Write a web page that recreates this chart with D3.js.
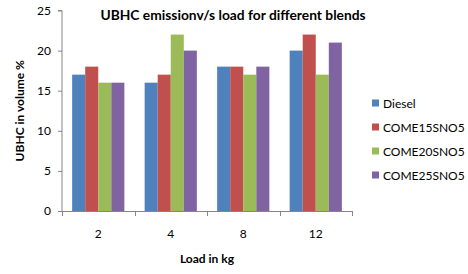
<!DOCTYPE html>
<html>
<head>
<meta charset="utf-8">
<script src="https://cdn.jsdelivr.net/npm/d3@7"></script>
<style>
  body { margin: 0; background: #fff; }
  text { font-family: Lato, "Open Sans", sans-serif; fill: #000; }
</style>
</head>
<body>
<svg id="chart" width="468" height="274"></svg>
<script>
let loads = ['2', '4', '8', '12'];
let blends = ['Diesel', 'COME15SNO5', 'COME20SNO5', 'COME25SNO5'];
let diesel = [17, 16, 18, 20];
let come15 = [18, 17, 18, 22];
let come20 = [16, 22, 17, 17];
let come25 = [16, 20, 18, 21];
let y_ticks = [0, 5, 10, 15, 20, 25];

let series = [diesel, come15, come20, come25];
let colors = ['#4f81bd', '#c0504d', '#9bbb59', '#8064a2'];
let axis_color = '#868686';

let margin = {left: 62, right: 116, top: 10.5, bottom: 63};
let width = 468, height = 274;

let svg = d3.select('#chart');

let x = d3.scaleBand()
  .domain(loads)
  .range([margin.left, width - margin.right])
  .paddingInner(0.28)
  .paddingOuter(0.14);

let x_inner = d3.scaleBand()
  .domain(blends)
  .range([0, x.bandwidth()]);

let y = d3.scaleLinear()
  .domain([0, 25])
  .range([height - margin.bottom, margin.top]);

// bars
let groups = svg.selectAll('.load-group')
  .data(loads)
  .enter().append('g')
  .attr('class', 'load-group')
  .attr('transform', d => `translate(${x(d)},0)`);

groups.selectAll('rect')
  .data((d, i) => blends.map((b, j) => ({blend: b, value: series[j][i], color: colors[j]})))
  .enter().append('rect')
  .attr('x', d => x_inner(d.blend))
  .attr('y', d => y(d.value))
  .attr('width', x_inner.bandwidth())
  .attr('height', d => y(0) - y(d.value))
  .attr('fill', d => d.color);

// y axis
let y_axis = d3.axisLeft(y)
  .tickValues(y_ticks)
  .tickSize(4)
  .tickPadding(7);
let gy = svg.append('g')
  .attr('transform', `translate(${margin.left},0)`)
  .call(y_axis);
gy.selectAll('path, line').attr('stroke', axis_color);
gy.select('.domain').attr('d', `M-4,${y(25)}H0V${y(0)}`);
gy.selectAll('text').style('font-size', '12px').style('font-family', 'Lato, sans-serif').attr('fill', '#000');

// x axis line + ticks at band boundaries
let x0 = x.range()[0], x1 = x.range()[1];
svg.append('line')
  .attr('x1', x0).attr('x2', x1)
  .attr('y1', y(0) + 0.5).attr('y2', y(0) + 0.5)
  .attr('stroke', axis_color);
svg.selectAll('.x-tick')
  .data(d3.range(loads.length + 1))
  .enter().append('line')
  .attr('class', 'x-tick')
  .attr('x1', i => Math.round(x0 + i * x.step()) + 0.5)
  .attr('x2', i => Math.round(x0 + i * x.step()) + 0.5)
  .attr('y1', y(0))
  .attr('y2', y(0) + 5)
  .attr('stroke', axis_color);
svg.selectAll('.x-label')
  .data(loads)
  .enter().append('text')
  .attr('class', 'x-label')
  .attr('x', d => x(d) + x.bandwidth() / 2)
  .attr('y', y(0) + 27)
  .attr('text-anchor', 'middle')
  .style('font-size', '12px')
  .text(d => d);

// titles
svg.append('text')
  .attr('x', 233)
  .attr('y', 20)
  .attr('text-anchor', 'middle')
  .style('font-size', '13.8px')
  .style('font-weight', 'bold')
  .text('UBHC emissionv/s load for different blends');

svg.append('text')
  .attr('x', 207)
  .attr('y', 263)
  .attr('text-anchor', 'middle')
  .style('font-size', '12px')
  .style('font-weight', 'bold')
  .text('Load in kg');

svg.append('text')
  .attr('transform', `translate(24,${y(12.5)}) rotate(-90)`)
  .attr('text-anchor', 'middle')
  .style('font-size', '12px')
  .style('font-weight', 'bold')
  .text('UBHC in volume %');

// legend
let legend = svg.selectAll('.legend-item')
  .data(blends)
  .enter().append('g')
  .attr('class', 'legend-item')
  .attr('transform', (d, i) => `translate(372,${103 + i * 24})`);
legend.append('rect')
  .attr('x', 0).attr('y', -3.5)
  .attr('width', 7).attr('height', 7)
  .attr('fill', (d, i) => colors[i]);
legend.append('text')
  .attr('x', 11)
  .attr('y', 4.5)
  .style('font-size', '12px')
  .text(d => d);
</script>
</body>
</html>
